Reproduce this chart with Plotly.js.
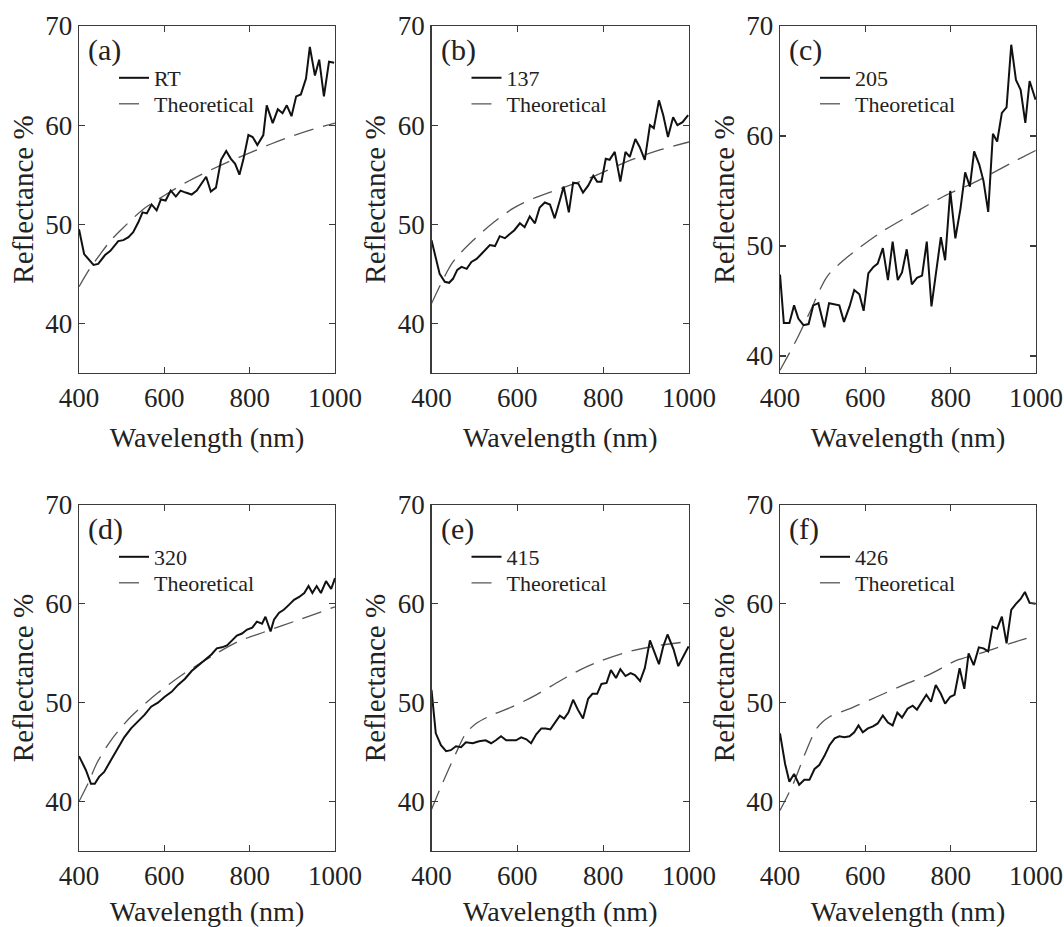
<!DOCTYPE html>
<html>
<head>
<meta charset="utf-8">
<script src="https://cdn.plot.ly/plotly-3.0.1.min.js"></script>
<style>html,body{margin:0;padding:0;background:#fff;}#chart{width:1064px;height:927px;}</style>
</head>
<body>
<div id="chart"></div>
<script>
// ---------- data ----------
const panelLabels = ['(a)', '(b)', '(c)', '(d)', '(e)', '(f)'];
const seriesNames = ['RT', '137', '205', '320', '415', '426'];
const theoryName = 'Theoretical';
const xTicks = [400, 600, 800, 1000];
const yTicks = [40, 50, 60, 70];

// (a) RT
const wlA = [400,412,434,445,461,473,492,504,516,527,539,549,559,570,582,592,603,615,627,638,650,664,676,688,698,709,721,733,745,756,766,776,785,797,807,818,832,840,854,866,877,887,898,909,920,932,941,953,963,974,986,998];
const rtA = [49.5,47.0,45.9,46.0,46.9,47.3,48.3,48.4,48.7,49.2,50.2,51.2,51.1,52.0,51.4,52.5,52.4,53.4,52.8,53.4,53.2,53.0,53.4,54.2,54.8,53.3,53.7,56.5,57.4,56.6,56.1,55.0,56.5,59.0,58.8,58.0,59.0,62.0,60.2,61.6,61.2,62.0,60.9,62.9,63.1,64.7,67.9,65.0,66.6,62.9,66.4,66.3];
const thWlA = [400,425,450,475,500,550,600,650,700,750,800,850,900,950,1000];
const thA = [43.7,45.5,47.0,48.4,49.5,51.5,52.9,54.2,55.3,56.3,57.2,58.1,58.9,59.6,60.2];

// (b) 137
const wlB = [400,410,419,431,441,450,460,470,482,493,505,514,524,536,548,559,571,582,593,606,617,629,641,652,664,676,687,699,708,720,730,742,753,765,777,786,796,806,815,827,840,852,862,875,885,897,909,918,930,940,951,963,973,985,998];
const rtB = [48.4,46.7,45.0,44.2,44.1,44.5,45.4,45.7,45.5,46.2,46.5,46.9,47.4,47.9,47.8,48.8,48.6,49.0,49.4,50.1,49.7,50.8,50.1,51.7,52.2,52.0,50.6,52.4,53.8,51.2,54.2,54.1,53.2,53.9,54.9,54.3,54.3,56.6,56.5,57.3,54.3,57.3,56.8,58.6,57.8,56.5,60.0,59.7,62.5,61.0,58.8,60.8,60.0,60.3,61.0];
const thWlB = [400,450,500,545,590,637,700,776,854,932,1000];
const thB = [42.0,46.2,48.5,50.2,51.6,52.6,53.6,54.8,56.3,57.5,58.3];

// (c) 205
const wlC = [400,409,422,433,443,455,467,478,490,504,515,527,539,550,563,574,586,596,607,619,629,641,653,664,676,686,697,709,721,733,744,755,764,777,787,799,811,823,834,845,855,867,877,888,899,909,920,931,942,953,964,975,985,999];
const rtC = [47.4,43.0,43.0,44.6,43.4,42.8,42.9,44.6,44.8,42.6,44.8,44.7,44.6,43.1,44.5,46.0,45.6,44.1,47.5,48.1,48.4,49.8,46.9,50.4,46.9,47.6,49.7,46.5,47.1,47.3,50.4,44.5,46.9,50.8,48.7,55.0,50.7,53.4,56.7,55.4,58.6,57.4,55.9,53.1,60.2,59.5,62.1,62.6,68.3,65.1,64.2,61.2,65.0,63.3];
const thWlC = [400,439,470,510,549,588,643,705,783,862,940,1000];
const thC = [38.7,41.5,44.0,47.2,48.7,49.9,51.4,52.8,54.5,55.9,57.5,58.7];

// (d) 320
const wlD = [400,416,428,437,447,459,475,491,506,522,538,554,569,585,601,617,632,648,664,680,695,711,723,735,747,758,770,782,794,806,817,829,837,849,857,869,880,892,904,916,928,938,947,957,967,979,991,1000];
const rtD = [44.6,43.2,41.8,41.8,42.5,43.0,44.2,45.4,46.5,47.4,48.1,48.8,49.6,50.0,50.6,51.1,51.8,52.4,53.2,53.8,54.4,54.9,55.5,55.6,55.8,56.3,56.8,57.0,57.4,57.6,58.2,58.0,58.7,57.2,58.4,59.1,59.4,59.9,60.4,60.7,61.1,61.8,61.1,61.8,61.1,62.3,61.5,62.6];
const thWlD = [400,422,442,475,522,585,648,711,774,837,916,1000];
const thD = [40.0,41.9,43.9,46.2,48.6,51.0,53.0,54.7,56.2,57.2,58.4,59.7];

// (e) 415
const wlE = [400,410,422,434,445,457,469,480,496,511,526,539,550,562,574,586,597,609,621,632,644,656,666,677,687,699,709,719,730,741,753,765,775,786,796,808,818,830,840,852,864,874,886,897,909,919,930,940,950,964,975,987,999];
const rtE = [51.3,46.9,45.7,45.1,45.2,45.6,45.5,46.0,45.9,46.1,46.2,45.9,46.2,46.6,46.2,46.2,46.2,46.5,46.3,45.9,46.8,47.4,47.4,47.3,47.9,48.7,48.4,49.0,50.3,49.3,48.4,50.4,50.9,50.9,51.9,52.0,53.3,52.5,53.4,52.7,53.0,52.8,52.2,53.5,56.3,55.1,53.9,55.7,56.9,55.4,53.7,54.7,55.7];
const thWlE = [400,426,457,480,504,543,589,644,699,745,792,854,917,1000];
const thE = [39.2,41.9,44.9,46.9,47.9,48.8,49.6,50.8,52.2,53.3,54.2,55.1,55.7,56.2];

// (f) 426
const wlF = [400,412,422,433,445,457,469,481,492,504,516,528,539,551,563,574,584,594,606,618,629,641,653,664,675,686,699,711,721,733,743,754,765,777,787,799,809,821,832,842,854,866,877,888,898,909,920,931,942,953,964,974,985,999];
const rtF = [46.9,43.8,42.0,42.8,41.7,42.2,42.2,43.3,43.7,44.6,45.7,46.4,46.6,46.5,46.6,47.0,47.7,47.0,47.4,47.6,47.9,48.7,48.0,47.7,49.0,48.5,49.4,49.7,49.3,50.1,50.8,50.1,51.8,50.9,49.9,50.6,50.8,53.5,51.4,55.0,53.8,55.6,55.5,55.2,57.7,57.5,58.7,56.0,59.4,60.0,60.5,61.2,60.1,60.0];
const thWlF = [400,431,463,486,517,564,627,690,752,815,877,940,1000];
const thF = [39.1,41.8,45.3,47.4,48.6,49.4,50.6,51.8,52.9,54.3,55.1,56.0,56.8];

const expWl = [wlA, wlB, wlC, wlD, wlE, wlF];
const expR = [rtA, rtB, rtC, rtD, rtE, rtF];
const thWl = [thWlA, thWlB, thWlC, thWlD, thWlE, thWlF];
const thR = [thA, thB, thC, thD, thE, thF];
const yRanges = [[35,70],[35,70],[38.45,70],[35,70],[35,70],[35,70]];

// ---------- layout geometry (pixels) ----------
const W = 1064, H = 927;
const colPx = [[79,335],[431.5,689],[780,1036]];
const rowPx = [[26,373],[505,851]];
const FONT = 'Liberation Serif';
const INK = '#222';

const traces = [];
const layout = {
  width: W, height: H,
  margin: {l:0, r:0, t:0, b:0},
  paper_bgcolor: '#fff', plot_bgcolor: '#fff',
  font: {family: FONT, color: INK},
  showlegend: true,
  annotations: []
};

function legendBox(c, r, offsetY) {
  return {
    x: (colPx[c][0] + 35)/W, y: (H - rowPx[r][0] - offsetY)/H,
    xanchor: 'left', yanchor: 'top',
    bgcolor: 'rgba(0,0,0,0)', borderwidth: 0,
    font: {family: FONT, size: 22, color: INK}
  };
}

for (let i = 0; i < 6; i++) {
  const r = Math.floor(i / 3), c = i % 3;
  const n = i + 1;
  const xa = 'x' + (n === 1 ? '' : n), ya = 'y' + (n === 1 ? '' : n);
  const xKey = 'xaxis' + (n === 1 ? '' : n), yKey = 'yaxis' + (n === 1 ? '' : n);
  const legExp = 'legend' + (2*i + 1 === 1 ? '' : 2*i + 1);
  const legTh = 'legend' + (2*i + 2);

  traces.push({
    x: thWl[i], y: thR[i], xaxis: xa, yaxis: ya, type: 'scatter', mode: 'lines',
    name: theoryName, legend: legTh,
    line: {color: '#555', width: 1.3, dash: '20px,10px', shape: 'spline', smoothing: 0.8}
  });
  traces.push({
    x: expWl[i], y: expR[i], xaxis: xa, yaxis: ya, type: 'scatter', mode: 'lines',
    name: seriesNames[i], legend: legExp,
    line: {color: '#111', width: 2}
  });

  const common = {
    showline: true, linecolor: '#3a3a3a', linewidth: 1.3, mirror: 'ticks',
    ticks: 'inside', ticklen: 6, tickwidth: 1.2, tickcolor: '#3a3a3a',
    showgrid: false, zeroline: false,
    tickfont: {family: FONT, size: 27, color: INK}
  };
  layout[xKey] = Object.assign({}, common, {
    domain: [colPx[c][0]/W, colPx[c][1]/W],
    anchor: ya, range: [400, 1000], tickvals: xTicks,
    title: {text: 'Wavelength (nm)', font: {family: FONT, size: 28, color: INK}, standoff: 15}
  });
  layout[yKey] = Object.assign({}, common, {
    domain: [(H - rowPx[r][1])/H, (H - rowPx[r][0])/H],
    anchor: xa, range: yRanges[i], tickvals: yTicks,
    title: {text: 'Reflectance %', font: {family: FONT, size: 29, color: INK}, standoff: 3}
  });
  layout[legExp] = legendBox(c, r, 31);
  layout[legTh] = legendBox(c, r, 57);
  layout.annotations.push({
    text: panelLabels[i], xref: 'paper', yref: 'paper',
    x: (colPx[c][0] + 7)/W, y: (H - rowPx[r][0] - 5)/H,
    xanchor: 'left', yanchor: 'top', showarrow: false,
    font: {family: FONT, size: 30, color: INK}
  });
}

Plotly.newPlot('chart', traces, layout, {staticPlot: true});
</script>
</body>
</html>
